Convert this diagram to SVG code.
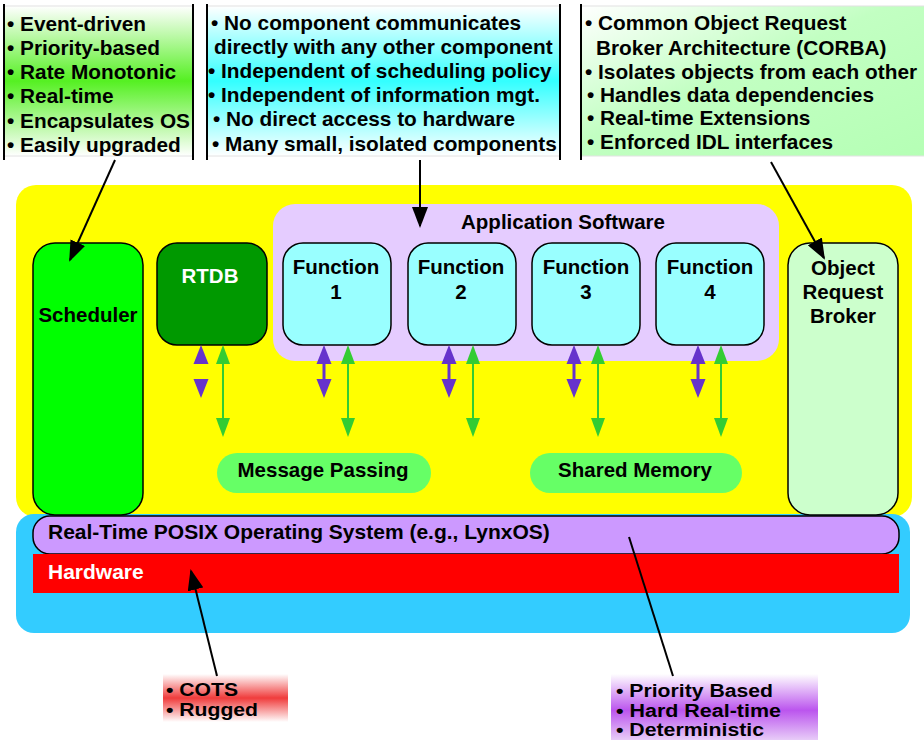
<svg xmlns="http://www.w3.org/2000/svg" width="924" height="740" viewBox="0 0 924 740">
  <defs>
    <linearGradient id="gradGreen" x1="0" y1="0" x2="0" y2="1">
      <stop offset="0" stop-color="#FFFFFF"/>
      <stop offset="0.5" stop-color="#55F022"/>
      <stop offset="1" stop-color="#FFFFFF"/>
    </linearGradient>
    <linearGradient id="gradCyan" x1="0" y1="0" x2="0" y2="1">
      <stop offset="0" stop-color="#FFFFFF"/>
      <stop offset="0.5" stop-color="#33FFFF"/>
      <stop offset="1" stop-color="#FFFFFF"/>
    </linearGradient>
    <linearGradient id="gradPale" x1="0" y1="0" x2="1" y2="1">
      <stop offset="0" stop-color="#FFFFFF"/>
      <stop offset="0.45" stop-color="#C2FFC2"/>
      <stop offset="1" stop-color="#B5FFB5"/>
    </linearGradient>
    <linearGradient id="gradRed" x1="0" y1="0" x2="0" y2="1">
      <stop offset="0" stop-color="#FFFFFF"/>
      <stop offset="0.5" stop-color="#F03C3C"/>
      <stop offset="1" stop-color="#FFFFFF"/>
    </linearGradient>
    <linearGradient id="gradPurple" x1="0" y1="0" x2="0" y2="1">
      <stop offset="0" stop-color="#FFFFFF"/>
      <stop offset="0.55" stop-color="#BB55EE"/>
      <stop offset="1" stop-color="#E8CCF8"/>
    </linearGradient>
    <marker id="headPurple" markerUnits="userSpaceOnUse" viewBox="0 -8 20 16" markerWidth="20" markerHeight="16" refX="0" refY="0" orient="auto-start-reverse">
      <path d="M0,-7.5 L19,0 L0,7.5 Z" fill="#6633CC"/>
    </marker>
    <marker id="headGreen" markerUnits="userSpaceOnUse" viewBox="0 -8 20 16" markerWidth="20" markerHeight="16" refX="0" refY="0" orient="auto-start-reverse">
      <path d="M0,-7 L19,0 L0,7 Z" fill="#33CC33"/>
    </marker>
    <marker id="headBlack" markerUnits="userSpaceOnUse" viewBox="0 -8 21 16" markerWidth="21" markerHeight="16" refX="19" refY="0" orient="auto">
      <path d="M0,-8 L21,0 L0,8 Z" fill="#000"/>
    </marker>
  </defs>
  <style>
    text { font-family: "Liberation Sans", Arial, sans-serif; font-weight: bold; fill: #000; }
    .note { font-size: 20.8px; }
    .small { font-size: 21px; }
    .tag { font-size: 17.5px; }
    .lbl { font-size: 20.5px; text-anchor: middle; }
    .white { fill: #FFFFFF; }
    .box { stroke: #000; stroke-width: 1.5; }
    .frame { stroke: #000; stroke-width: 2; }
    .edge { fill: none; stroke: #E2E2E2; stroke-width: 1; }
    .conn { stroke: #000; stroke-width: 2; fill: none; }
    .bus-p { stroke: #6633CC; stroke-width: 3; fill: none; }
    .bus-g { stroke: #33CC33; stroke-width: 2; fill: none; }
  </style>

  <rect x="0" y="0" width="924" height="740" fill="#FFFFFF"/>

  <!-- note: scheduler properties -->
  <g id="note-scheduler">
    <rect x="4" y="6" width="189" height="150" fill="url(#gradGreen)"/>
    <rect class="edge" x="4" y="6" width="189" height="150"/>
    <line class="frame" x1="4" y1="4" x2="4" y2="160"/>
    <line class="frame" x1="193" y1="4" x2="193" y2="160"/>
    <text class="note" x="7" y="31">• Event-driven</text>
    <text class="note" x="7" y="55">• Priority-based</text>
    <text class="note" x="7" y="79">• Rate Monotonic</text>
    <text class="note" x="7" y="103">• Real-time</text>
    <text class="note" x="7" y="128">• Encapsulates OS</text>
    <text class="note" x="7" y="152">• Easily upgraded</text>
  </g>

  <!-- note: application components -->
  <g id="note-components">
    <rect x="207" y="6" width="353" height="150" fill="url(#gradCyan)"/>
    <rect class="edge" x="207" y="6" width="353" height="150"/>
    <line class="frame" x1="207" y1="4" x2="207" y2="160"/>
    <line class="frame" x1="560" y1="4" x2="560" y2="160"/>
    <text class="note" x="211" y="30">• No component communicates</text>
    <text class="note" x="214" y="54">directly with any other component</text>
    <text class="note" x="208" y="78">• Independent of scheduling policy</text>
    <text class="note" x="208" y="102">• Independent of information mgt.</text>
    <text class="note" x="213" y="126">• No direct access to hardware</text>
    <text class="note" x="212" y="151">• Many small, isolated components</text>
  </g>

  <!-- note: object request broker -->
  <g id="note-corba">
    <rect x="581" y="6" width="343" height="150" fill="url(#gradPale)"/>
    <rect class="edge" x="581" y="6" width="350" height="150"/>
    <line class="frame" x1="581" y1="4" x2="581" y2="160"/>
    <text class="note" x="585" y="30">• Common Object Request</text>
    <text class="note" x="596" y="55">Broker Architecture (CORBA)</text>
    <text class="note" x="585" y="79">• Isolates objects from each other</text>
    <text class="note" x="587" y="102">• Handles data dependencies</text>
    <text class="note" x="587" y="125">• Real-time Extensions</text>
    <text class="note" x="587" y="149">• Enforced IDL interfaces</text>
  </g>

  <!-- software layer and platform layer backgrounds -->
  <g id="software-layer">
    <rect x="16" y="185" width="896" height="332" rx="20" fill="#FFFF00"/>
  </g>
  <g id="platform-layer">
    <rect x="16" y="514" width="894" height="119" rx="18" fill="#33CCFF"/>
  </g>

  <g id="scheduler">
    <rect class="box" x="33" y="243" width="110" height="272" rx="22" fill="#00FF00"/>
    <text class="lbl" x="88" y="322">Scheduler</text>
  </g>

  <g id="orb">
    <rect class="box" x="788" y="243" width="110" height="272" rx="22" fill="#CCFFCC"/>
    <text class="lbl" x="843" y="275">Object</text>
    <text class="lbl" x="843" y="299">Request</text>
    <text class="lbl" x="843" y="323">Broker</text>
  </g>

  <g id="rtdb">
    <rect class="box" x="157" y="243" width="110" height="102" rx="20" fill="#009900"/>
    <text class="lbl white" x="210" y="283">RTDB</text>
  </g>

  <g id="application-software">
    <rect x="273" y="204" width="506" height="157" rx="22" fill="#E5CCFF"/>
    <text class="lbl" x="563" y="229">Application Software</text>
  </g>

  <g id="function-1">
    <rect class="box" x="283" y="243" width="108" height="102" rx="20" fill="#99FFFF"/>
    <text class="lbl" x="336" y="274">Function</text>
    <text class="lbl" x="336" y="299">1</text>
  </g>
  <g id="function-2">
    <rect class="box" x="408" y="243" width="108" height="102" rx="20" fill="#99FFFF"/>
    <text class="lbl" x="461" y="274">Function</text>
    <text class="lbl" x="461" y="299">2</text>
  </g>
  <g id="function-3">
    <rect class="box" x="532" y="243" width="108" height="102" rx="20" fill="#99FFFF"/>
    <text class="lbl" x="586" y="274">Function</text>
    <text class="lbl" x="586" y="299">3</text>
  </g>
  <g id="function-4">
    <rect class="box" x="656" y="243" width="108" height="102" rx="20" fill="#99FFFF"/>
    <text class="lbl" x="710" y="274">Function</text>
    <text class="lbl" x="710" y="299">4</text>
  </g>

  <g id="message-passing">
    <rect x="217" y="453" width="214" height="40" rx="20" fill="#66FF66"/>
    <text class="lbl" x="323" y="477" font-size="21">Message Passing</text>
  </g>
  <g id="shared-memory">
    <rect x="530" y="453" width="212" height="40" rx="20" fill="#66FF66"/>
    <text class="lbl" x="635" y="477" font-size="21">Shared Memory</text>
  </g>

  <g id="operating-system">
    <rect class="box" x="33" y="516" width="866" height="38" rx="17" fill="#CC99FF"/>
    <text class="small" x="48" y="539">Real-Time POSIX Operating System (e.g., LynxOS)</text>
  </g>

  <g id="hardware">
    <rect x="33" y="554" width="866" height="39" fill="#FF0000"/>
    <text class="small white" x="48" y="579">Hardware</text>
  </g>

  <!-- bottom notes use a widened face -->
  <g id="note-hardware">
    <rect x="163" y="674" width="125" height="48" fill="url(#gradRed)"/>
    <text class="tag" x="166" y="696" textLength="72" lengthAdjust="spacingAndGlyphs">• COTS</text>
    <text class="tag" x="166" y="716" textLength="92" lengthAdjust="spacingAndGlyphs">• Rugged</text>
  </g>

  <g id="note-os">
    <rect x="611" y="674" width="207" height="66" fill="url(#gradPurple)"/>
    <text class="tag" x="616" y="697" textLength="157" lengthAdjust="spacingAndGlyphs">• Priority Based</text>
    <text class="tag" x="616" y="716.6" textLength="165" lengthAdjust="spacingAndGlyphs">• Hard Real-time</text>
    <text class="tag" x="616" y="736.2" textLength="148" lengthAdjust="spacingAndGlyphs">• Deterministic</text>
  </g>

  <g id="connectors">
    <!-- data links between components and the communication services -->
    <path d="M201,364 L201,379" stroke="none" fill="none" marker-start="url(#headPurple)" marker-end="url(#headPurple)"/>
    <path class="bus-g" d="M223,364 L223,418" marker-start="url(#headGreen)" marker-end="url(#headGreen)"/>
    <path class="bus-p" d="M324,364 L324,379" marker-start="url(#headPurple)" marker-end="url(#headPurple)"/>
    <path class="bus-g" d="M348,364 L348,418" marker-start="url(#headGreen)" marker-end="url(#headGreen)"/>
    <path class="bus-p" d="M449,364 L449,379" marker-start="url(#headPurple)" marker-end="url(#headPurple)"/>
    <path class="bus-g" d="M473,364 L473,418" marker-start="url(#headGreen)" marker-end="url(#headGreen)"/>
    <path class="bus-p" d="M574,364 L574,379" marker-start="url(#headPurple)" marker-end="url(#headPurple)"/>
    <path class="bus-g" d="M598,364 L598,418" marker-start="url(#headGreen)" marker-end="url(#headGreen)"/>
    <path class="bus-p" d="M698,364 L698,379" marker-start="url(#headPurple)" marker-end="url(#headPurple)"/>
    <path class="bus-g" d="M721,364 L721,418" marker-start="url(#headGreen)" marker-end="url(#headGreen)"/>

    <!-- callout pointers -->
    <line class="conn" x1="115" y1="160" x2="70" y2="260" marker-end="url(#headBlack)"/>
    <line class="conn" x1="420" y1="160" x2="420" y2="226" marker-end="url(#headBlack)"/>
    <line class="conn" x1="771" y1="162" x2="824" y2="258" marker-end="url(#headBlack)"/>
    <line class="conn" x1="217" y1="676" x2="191" y2="571" marker-end="url(#headBlack)"/>
    <line class="conn" x1="629" y1="537" x2="673" y2="676" stroke-width="1.5"/>
  </g>
</svg>
